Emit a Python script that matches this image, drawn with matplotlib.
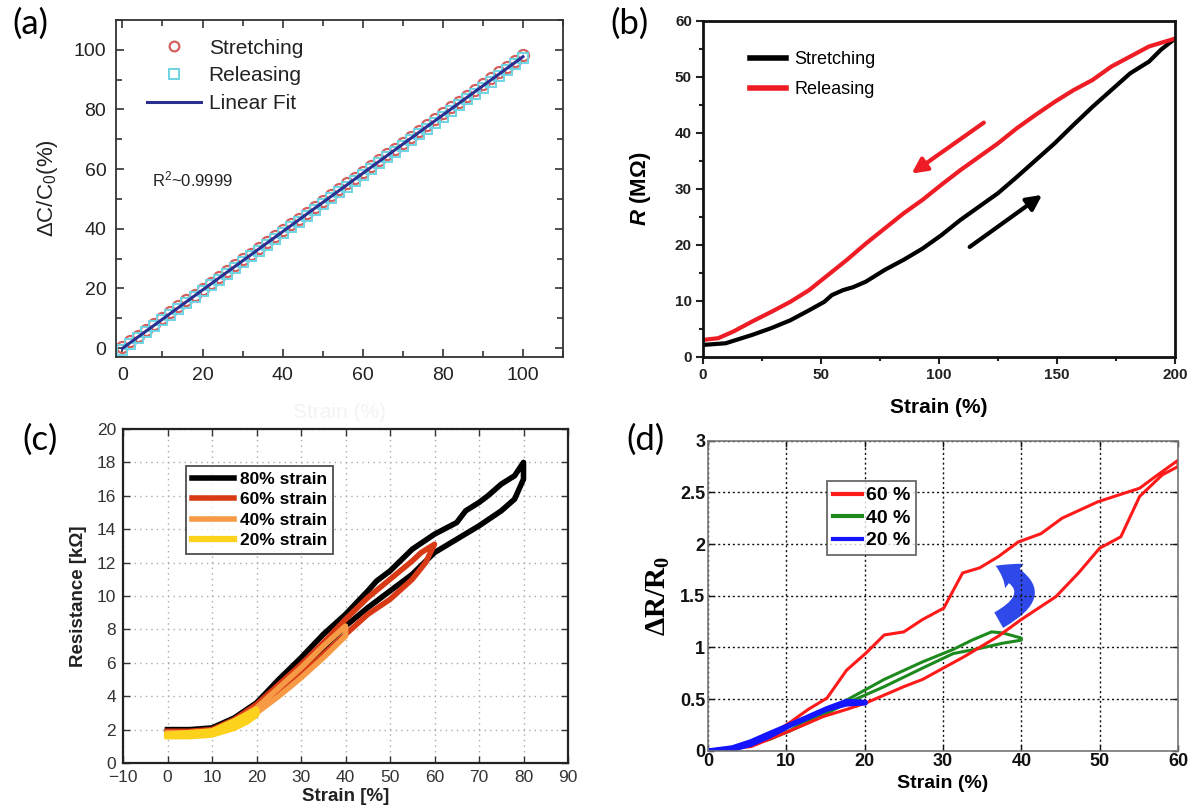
import matplotlib
matplotlib.use('Agg')
import matplotlib.pyplot as plt
from matplotlib.patches import FancyArrowPatch
from matplotlib.ticker import MultipleLocator

plt.rcParams['font.family'] = ['Liberation Sans', 'DejaVu Sans']
plt.rcParams['mathtext.fontset'] = 'custom'
plt.rcParams['mathtext.rm'] = 'Liberation Sans'
plt.rcParams['mathtext.it'] = 'Liberation Sans:italic'
plt.rcParams['mathtext.bf'] = 'Liberation Serif:bold'
plt.rcParams['mathtext.bfit'] = 'Liberation Sans:bold:italic'

# ---------------- data: panel (a) ----------------
a_strain = [0, 2, 4, 6, 8, 10, 12, 14, 16, 18, 20, 22, 24, 26, 28, 30, 32, 34, 36, 38, 40,
            42, 44, 46, 48, 50, 52, 54, 56, 58, 60, 62, 64, 66, 68, 70, 72, 74, 76, 78, 80,
            82, 84, 86, 88, 90, 92, 94, 96, 98, 100]
a_stretch = [0.3, 2.3, 4.2, 6.2, 8.1, 10.1, 12.1, 14.0, 16.0, 17.9, 19.9, 21.9, 23.8, 25.8, 27.7,
             29.7, 31.7, 33.6, 35.6, 37.5, 39.5, 41.5, 43.4, 45.4, 47.3, 49.3, 51.3, 53.2, 55.2,
             57.1, 59.1, 61.1, 63.0, 65.0, 66.9, 68.9, 70.9, 72.8, 74.8, 76.7, 78.7, 80.7, 82.6,
             84.6, 86.5, 88.5, 90.5, 92.4, 94.4, 96.3, 98.3]
a_release = [-0.5, 1.4, 3.4, 5.4, 7.3, 9.3, 11.2, 13.2, 15.1, 17.1, 19.0, 21.0, 22.9, 24.9, 26.8,
             28.8, 30.7, 32.7, 34.6, 36.6, 38.5, 40.5, 42.4, 44.4, 46.3, 48.3, 50.2, 52.2, 54.1,
             56.1, 58.0, 60.0, 61.9, 63.9, 65.8, 67.8, 69.7, 71.7, 73.6, 75.6, 77.5, 79.5, 81.4,
             83.4, 85.3, 87.3, 89.2, 91.2, 93.1, 95.1, 97.1]
a_fit_x = [0, 100]
a_fit_y = [-0.1, 97.7]

# ---------------- data: panel (b) ----------------
b_stretch_x = [0, 9.6, 20.9, 28.9, 37, 45, 51.4, 54.6, 59.4, 63.5, 69, 77, 85, 93, 101, 109, 117,
               125, 133, 141, 149, 157, 165, 173, 181, 189, 194, 200]
b_stretch_y = [2.1, 2.4, 3.9, 5.1, 6.5, 8.3, 9.8, 11.0, 11.9, 12.4, 13.4, 15.5, 17.3, 19.3, 21.7,
               24.4, 26.8, 29.2, 32.1, 35.1, 38.1, 41.4, 44.6, 47.6, 50.6, 52.7, 54.8, 56.8]
b_release_x = [0, 6.4, 12.9, 20.9, 28.9, 37, 45, 53, 61, 69, 77, 85, 93, 101, 109, 117, 125, 133,
               141, 149, 157, 165, 173, 181, 189, 200]
b_release_y = [3.0, 3.3, 4.5, 6.3, 8.0, 9.8, 11.9, 14.6, 17.3, 20.2, 22.9, 25.6, 28.0, 30.7, 33.3,
               35.7, 38.1, 40.8, 43.2, 45.5, 47.6, 49.4, 51.8, 53.6, 55.4, 56.8]
b_xticks = [0, 50, 100, 150, 200]
b_yticks = [0, 10, 20, 30, 40, 50, 60]

# ---------------- data: panel (c) ----------------
c80_x = [0, 5, 10, 15, 20, 25, 30, 35, 40, 45, 50, 55, 60, 65, 70, 75, 78, 80,
         80, 78, 75, 72, 70, 67, 65, 60, 55, 50, 47, 45, 40, 35, 30, 25, 20, 15, 10, 5, 0]
c80_y = [1.9, 1.9, 2.0, 2.5, 3.3, 4.4, 5.6, 6.9, 8.2, 9.3, 10.3, 11.3, 12.6, 13.4, 14.2, 15.1, 15.8, 17.0,
         18.0, 17.2, 16.7, 16.0, 15.6, 15.1, 14.4, 13.7, 12.8, 11.5, 10.9, 10.3, 8.9, 7.7, 6.3, 5.0, 3.6, 2.7, 2.1, 2.0, 2.0]
c60_x = [0, 5, 10, 15, 20, 25, 30, 35, 40, 45, 50, 55, 58, 60,
         60, 57, 55, 50, 45, 40, 35, 30, 25, 20, 15, 10, 5, 0]
c60_y = [1.8, 1.8, 1.9, 2.4, 3.2, 4.2, 5.3, 6.5, 7.7, 8.9, 9.8, 11.0, 12.0, 13.1,
         13.1, 12.6, 12.1, 11.0, 9.9, 8.6, 7.2, 5.9, 4.7, 3.5, 2.6, 2.0, 1.9, 1.9]
c40_x = [0, 5, 10, 15, 20, 25, 30, 35, 40, 40, 35, 30, 25, 20, 15, 10, 5, 0]
c40_y = [1.7, 1.7, 1.8, 2.3, 3.0, 4.0, 5.1, 6.3, 7.6, 8.2, 7.0, 5.7, 4.5, 3.3, 2.5, 1.9, 1.8, 1.8]
c20_x = [0, 5, 10, 15, 18, 20, 20, 18, 15, 10, 5, 0]
c20_y = [1.6, 1.6, 1.7, 2.1, 2.5, 2.9, 3.2, 2.9, 2.5, 1.9, 1.8, 1.7]
c_xticks = [-10, 0, 10, 20, 30, 40, 50, 60, 70, 80, 90]
c_yticks = [0, 2, 4, 6, 8, 10, 12, 14, 16, 18, 20]

# ---------------- data: panel (d) ----------------
d60_x = [0, 3.1, 5.5, 7.9, 10.4, 12.8, 15.2, 17.7, 20.1, 22.5, 25.0, 27.4, 30.1, 32.5, 34.7, 37.1,
         39.6, 42.5, 45.2, 49.8, 55.1, 57.6, 60,
         60, 58, 55.1, 52.7, 50, 47.3, 44.4, 40, 37.1, 32.7, 27.4, 25.0, 20.1, 17.7, 14.7, 10.4, 5.5, 0]
d60_y = [0, 0.01, 0.06, 0.15, 0.27, 0.40, 0.51, 0.78, 0.94, 1.12, 1.15, 1.27, 1.38, 1.72, 1.77, 1.88,
         2.02, 2.10, 2.25, 2.41, 2.54, 2.68, 2.81,
         2.75, 2.67, 2.46, 2.07, 1.96, 1.72, 1.49, 1.27, 1.11, 0.91, 0.69, 0.62, 0.46, 0.40, 0.33, 0.19, 0.04, 0]
d40_x = [0, 3.1, 6.5, 10.4, 12.8, 17.7, 22.5, 27.4, 31.3, 33.7, 36.2, 37.6, 40,
         40, 37.6, 34.7, 31.3, 27.4, 22.5, 17.7, 12.8, 7.9, 3.1, 0]
d40_y = [0, 0.03, 0.09, 0.19, 0.30, 0.49, 0.69, 0.86, 0.98, 1.07, 1.15, 1.14, 1.09,
         1.07, 1.04, 0.99, 0.94, 0.80, 0.62, 0.46, 0.27, 0.11, 0.01, 0]
d20_x = [0, 3.1, 5.5, 7.9, 10.4, 12.8, 15.2, 17.7, 20.1,
         20.1, 17.7, 15.2, 12.8, 10.4, 7.9, 5.5, 3.1, 0]
d20_y = [0, 0.03, 0.09, 0.17, 0.25, 0.33, 0.41, 0.48, 0.47,
         0.46, 0.45, 0.40, 0.32, 0.24, 0.14, 0.06, 0.01, 0]
d_xticks = [0, 10, 20, 30, 40, 50, 60]
d_yticks = [0, 0.5, 1, 1.5, 2, 2.5, 3]
d_yticklabels = ['0', '0.5', '1', '1.5', '2', '2.5', '3']

W, H = 1195, 809
fig = plt.figure(figsize=(W / 100, H / 100), dpi=100)


def box(l, t, r, b):
    return [l / W, 1 - b / H, (r - l) / W, (b - t) / H]


# ================= panel (a) =================
axa = fig.add_axes(box(116, 20, 563, 357))
axa.plot(a_strain, a_stretch, 'o', mfc='none', mec='#d2605f', ms=8, mew=1.6, label='Stretching')
axa.plot(a_strain, a_release, 's', mfc='none', mec='#6ed5e4', ms=6.5, mew=1.4, label='Releasing')
axa.plot(a_fit_x, a_fit_y, '-', color='#2b2f90', lw=2.2, label='Linear Fit')
axa.set_xlim(-1.6, 110)
axa.set_ylim(-3, 110)
axa.xaxis.set_major_locator(MultipleLocator(20))
axa.xaxis.set_minor_locator(MultipleLocator(10))
axa.yaxis.set_major_locator(MultipleLocator(20))
axa.yaxis.set_minor_locator(MultipleLocator(10))
axa.tick_params(which='both', direction='in', top=True, right=True, width=1.2, colors='#333333')
axa.tick_params(which='major', length=6, labelsize=14, pad=7, labelcolor='#222222')
axa.tick_params(which='minor', length=4)
for s in axa.spines.values():
    s.set_linewidth(1.3)
    s.set_color('#333333')
axa.set_ylabel(r'$\mathrm{\Delta C/C_0}$(%)', fontsize=16, color='#222222', labelpad=10)
axa.set_xlabel('Strain (%)', fontsize=15, color='#f3f3f3', labelpad=14)
axa.text(7.5, 56.5, r'$\mathrm{R^2}$~0.9999', fontsize=12, color='#222222', va='center')
lega = axa.legend(loc='upper left', bbox_to_anchor=(0.07, 0.945), frameon=False, fontsize=15,
                  numpoints=1, handlelength=2.6, handletextpad=0.35, labelspacing=0.42,
                  borderpad=0, borderaxespad=0, labelcolor='#222222')
for ln in lega.get_lines():
    ln.set_markersize(7)

# ================= panel (b) =================
axb = fig.add_axes(box(703, 20.7, 1175, 356.7))
axb.plot(b_stretch_x, b_stretch_y, '-', color='black', lw=3, label='Stretching')
axb.plot(b_release_x, b_release_y, '-', color='#ee1c24', lw=3, label='Releasing')
axb.set_xlim(0, 200)
axb.set_ylim(0, 60)
axb.set_xticks(b_xticks, [str(v) for v in b_xticks], fontweight='bold')
axb.set_yticks(b_yticks, [str(v) for v in b_yticks], fontweight='bold')
axb.xaxis.set_minor_locator(MultipleLocator(25))
axb.yaxis.set_minor_locator(MultipleLocator(5))
axb.tick_params(which='both', direction='out', width=1.5, colors='#222222')
axb.tick_params(which='major', length=5, labelsize=11, pad=3)
axb.tick_params(which='minor', length=3)
for s in axb.spines.values():
    s.set_linewidth(2)
    s.set_color('#111111')
axb.set_xlabel('Strain (%)', fontsize=15, fontweight='bold', labelpad=12)
axb.set_ylabel(r'$\mathbfit{R}$ (MΩ)', fontsize=16, fontweight='bold', labelpad=16)
axb.annotate('', xy=(88.4, 32.7), xytext=(119, 41.8),
             arrowprops=dict(arrowstyle='-|>,head_length=0.9,head_width=0.45', color='#ee1c24',
                             lw=3, shrinkA=0, shrinkB=0))
axb.annotate('', xy=(143.7, 28.9), xytext=(113, 19.6),
             arrowprops=dict(arrowstyle='-|>,head_length=0.9,head_width=0.45', color='black',
                             lw=3, shrinkA=0, shrinkB=0))
legb = axb.legend(loc='upper left', bbox_to_anchor=(0.1, 0.91), frameon=False, fontsize=13,
                  handlelength=2.0, handletextpad=0.45, labelspacing=0.75, borderpad=0,
                  borderaxespad=0)
for ln in legb.get_lines():
    ln.set_linewidth(4)

# ================= panel (c) =================
axc = fig.add_axes(box(123, 429, 568, 763))
axc.plot(c80_x, c80_y, '-', color='#000000', lw=4, label='80% strain')
axc.plot(c60_x, c60_y, '-', color='#d93a16', lw=4, label='60% strain')
axc.plot(c40_x, c40_y, '-', color='#f79a45', lw=4, label='40% strain')
axc.plot(c20_x, c20_y, '-', color='#fdd21c', lw=4.5, label='20% strain')
axc.set_xlim(-10, 90)
axc.set_ylim(0, 20)
axc.set_xticks(c_xticks, ['\u2212' + str(-v) if v < 0 else str(v) for v in c_xticks])
axc.set_yticks(c_yticks, [str(v) for v in c_yticks])
axc.grid(True, linestyle=(0, (1, 3)), color='#aaaaaa', lw=1)
axc.tick_params(direction='in', top=True, right=True, length=5, width=1, labelsize=12.5,
                colors='#333333', pad=5)
for s in axc.spines.values():
    s.set_linewidth(1.6)
    s.set_color('#222222')
axc.set_xlabel('Strain [%]', fontsize=13.5, fontweight='bold', color='#222222', labelpad=2)
axc.set_ylabel('Resistance [kΩ]', fontsize=13.5, fontweight='bold', color='#222222', labelpad=7)
legc = axc.legend(loc='upper left', bbox_to_anchor=(0.142, 0.89),
                  prop=dict(weight='bold', size=12.5), frameon=True, fancybox=False,
                  handlelength=2.4, handletextpad=0.35, labelspacing=0.3, borderpad=0.35,
                  borderaxespad=0)
legc.get_frame().set_edgecolor('#222222')
legc.get_frame().set_linewidth(1.3)

# ================= panel (d) =================
axd = fig.add_axes(box(708, 440.7, 1178, 750.7))
axd.plot(d40_x, d40_y, '-', color='#1e8a1e', lw=2.2, label='40 %')
axd.plot(d60_x, d60_y, '-', color='#ff1a1a', lw=2.2, label='60 %')
axd.plot(d20_x, d20_y, '-', color='#1414ff', lw=3.4, label='20 %')
axd.set_xlim(0, 60)
axd.set_ylim(0, 3)
axd.set_xticks(d_xticks, [str(v) for v in d_xticks], fontweight='bold')
axd.set_yticks(d_yticks, d_yticklabels, fontweight='bold')
axd.grid(True, linestyle=(0, (1.5, 2)), color='#111111', lw=1)
axd.tick_params(direction='in', top=True, right=True, length=4, width=1, labelsize=13,
                colors='#111111', pad=2)
for s in axd.spines.values():
    s.set_linewidth(1.2)
    s.set_color('#777777')
axd.set_xlabel('Strain (%)', fontsize=14, fontweight='bold', labelpad=3)
axd.set_ylabel(r'$\mathbf{\Delta R/R_0}$', fontsize=21, labelpad=6)
arr = FancyArrowPatch(posA=(36.8, 1.25), posB=(36.4, 1.80), connectionstyle='arc3,rad=1.05',
                      arrowstyle='simple,head_length=0.9,head_width=1.3,tail_width=0.75',
                      mutation_scale=17, color='#2f48ea', lw=0)
axd.add_patch(arr)
h, l = axd.get_legend_handles_labels()
order = [1, 0, 2]
legd = axd.legend([h[i] for i in order], [l[i] for i in order], loc='upper left',
                  bbox_to_anchor=(0.254, 0.87), prop=dict(weight='bold', size=14),
                  frameon=True, fancybox=False, handlelength=1.5, handletextpad=0.2,
                  labelspacing=0.25, borderpad=0.3, borderaxespad=0)
legd.get_frame().set_edgecolor('#444444')
legd.get_frame().set_linewidth(1.3)
for line in legd.get_lines():
    line.set_linewidth(3)

# ================= panel labels =================
lab_font = dict(fontsize=25, family=['Lato', 'DejaVu Sans'], ha='center', va='center')
fig.text(30 / W, 1 - 24 / H, '(a)', **lab_font)
fig.text(630 / W, 1 - 24 / H, '(b)', **lab_font)
fig.text(40 / W, 1 - 440 / H, '(c)', **lab_font)
fig.text(645 / W, 1 - 440 / H, '(d)', **lab_font)

fig.savefig('out.png', dpi=100)
